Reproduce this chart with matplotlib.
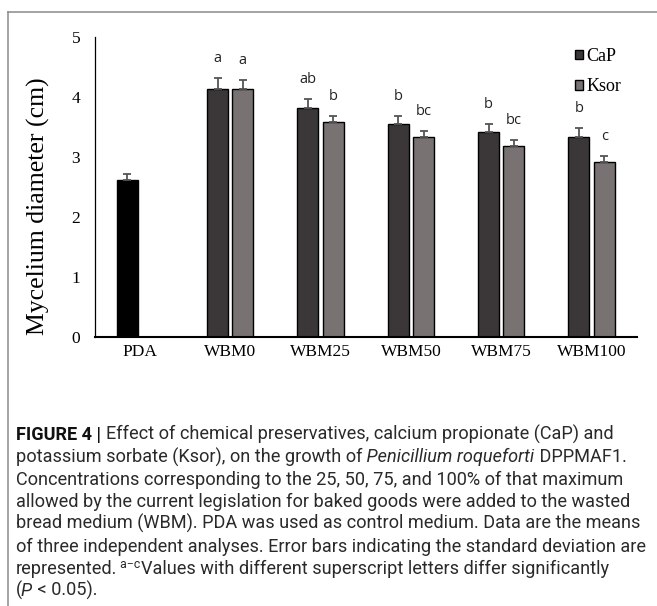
import numpy as np
import matplotlib
matplotlib.use("Agg")
import matplotlib.pyplot as plt
from matplotlib.patches import Patch
from matplotlib.lines import Line2D

# data
groups = ['PDA', 'WBM0', 'WBM25', 'WBM50', 'WBM75', 'WBM100']
pda_val = 2.62
pda_sd = 0.10
cap_vals = [4.14, 3.82, 3.55, 3.42, 3.34]
cap_sd = [0.18, 0.15, 0.14, 0.13, 0.15]
ksor_vals = [4.13, 3.58, 3.33, 3.18, 2.92]
ksor_sd = [0.15, 0.11, 0.11, 0.11, 0.10]
cap_letters = ['a', 'ab', 'b', 'b', 'b']
ksor_letters = ['a', 'b', 'bc', 'bc', 'c']

serif = ['Liberation Serif', 'DejaVu Serif']
cap_font = ['Roboto', 'DejaVu Sans']

W, H = 657, 606
fig = plt.figure(figsize=(W / 100, H / 100), dpi=100)
ax = fig.add_axes([94.7 / W, 1 - 337.3 / H, 542 / W, 300 / H])

x = np.arange(len(groups))
off = 0.14
bw = 0.233
c_cap = '#3b3738'
c_ksor = '#787272'
ekw = dict(ecolor='#555555', elinewidth=1.3, capsize=3, capthick=1.3)

ax.bar(x[0] - off, pda_val, bw, color='black', edgecolor='black', linewidth=1.0,
       yerr=[[0], [pda_sd]], error_kw=ekw)
ax.bar(x[1:] - off, cap_vals, bw, color=c_cap, edgecolor='black', linewidth=1.0,
       yerr=[np.zeros(5), cap_sd], error_kw=ekw)
ax.bar(x[1:] + off, ksor_vals, bw, color=c_ksor, edgecolor='black', linewidth=1.0,
       yerr=[np.zeros(5), ksor_sd], error_kw=ekw)

lfont = ['Open Sans', 'Liberation Sans', 'DejaVu Sans']
for i in range(5):
    ax.text(x[i + 1] - off, cap_vals[i] + cap_sd[i] + 0.2, cap_letters[i],
            ha='center', va='bottom', fontsize=10.5, color='#222222', family=lfont)
    ax.text(x[i + 1] + off, ksor_vals[i] + ksor_sd[i] + 0.2, ksor_letters[i],
            ha='center', va='bottom', fontsize=10.5, color='#222222', family=lfont)

ax.set_xlim(-0.5, 5.5)
ax.set_ylim(0, 5)
ax.set_yticks(range(6))
ax.set_xticks(x)
ax.set_xticklabels(groups)
ax.tick_params(axis='y', length=0, pad=10.5)
ax.tick_params(axis='x', length=0, pad=5)
for lab in ax.get_xticklabels() + ax.get_yticklabels():
    lab.set_family(serif)
    lab.set_fontsize(12.5)
ax.set_ylabel('Mycelium diameter (cm)', family=serif, fontsize=18.5)
ax.yaxis.set_label_coords(-0.083, 0.436)
for s in ['top', 'right']:
    ax.spines[s].set_visible(False)
ax.spines['left'].set_linewidth(0.9)
ax.spines['bottom'].set_linewidth(1.5)

handles = [Patch(facecolor=c_cap, edgecolor='black', linewidth=1.0, label='CaP'),
           Patch(facecolor=c_ksor, edgecolor='black', linewidth=1.0, label='Ksor')]
ax.legend(handles=handles, loc='upper left', bbox_to_anchor=(0.887, 0.965),
          frameon=False, prop={'family': serif, 'size': 13},
          handlelength=0.42, handleheight=0.42, handletextpad=0.2,
          labelspacing=0.75, borderpad=0, borderaxespad=0)

# frame lines around the figure panel
fig.add_artist(Line2D([8 / W, 1], [1 - 12 / H, 1 - 12 / H], color='#8a8a8a', lw=1.1))
fig.add_artist(Line2D([8 / W, 8 / W], [1 - 12 / H, 0], color='#8a8a8a', lw=1.1))

# caption, drawn segment by segment: (text, style, extra gap after in px)
cap_lines = [
    [("FIGURE 4 | ", 'bold', 0), ("Effect of chemical preservatives, calcium propionate (CaP) and", 'normal', 0)],
    [("potassium sorbate (Ksor), on the growth of", 'normal', 0), (" Penicillium roqueforti", 'italic', 0),
     (" DPPMAF1.", 'normal', 0)],
    [("Concentrations corresponding to the 25, 50, 75, and 100% of that maximum", 'normal', 0)],
    [("allowed by the current legislation for baked goods were added to the wasted", 'normal', 0)],
    [("bread medium (WBM). PDA was used as control medium. Data are the means", 'normal', 0)],
    [("of three independent analyses. Error bars indicating the standard deviation are", 'normal', 0)],
    [("represented.", 'normal', 0), (" a\u2212c", 'sup', 0),
     ("Values with different superscript letters differ significantly", 'normal', 0)],
    [("(", 'normal', -1.5), ("P", 'italic', 1.5), (" < 0.05).", 'normal', 0)],
]

fs = 13.1
renderer = fig.canvas.get_renderer()
y0 = 440
for k, segs in enumerate(cap_lines):
    xpos = 16.0
    ybase = y0 + k * 22.3
    for txt, style, gap in segs:
        kw = dict(family=cap_font, fontsize=fs, color='#2a2a2a', va='baseline', ha='left')
        yy = ybase
        if style == 'bold':
            kw['weight'] = 'bold'
            kw['color'] = '#111111'
        elif style == 'italic':
            kw['style'] = 'italic'
        elif style == 'sup':
            kw['fontsize'] = fs * 0.68
            yy = ybase - 5.5
        t = fig.text(xpos / W, 1 - yy / H, txt, **kw)
        bb = t.get_window_extent(renderer)
        xpos = bb.x1 + gap

fig.savefig('out.png', dpi=100)
